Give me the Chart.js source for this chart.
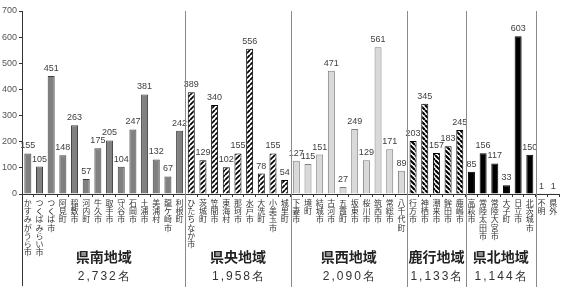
<!DOCTYPE html>
<html><head><meta charset="utf-8">
<script src="https://cdn.jsdelivr.net/npm/chart.js@4/dist/chart.umd.min.js"></script>
<style>html,body{margin:0;padding:0;background:#fff}#wrap{width:561px;height:288px;position:relative}</style>
</head><body><div id="wrap"><canvas id="c"></canvas></div>
<script>
const categories = ['かすみがうら市','つくばみらい市','つくば市','阿見町','稲敷市','河内町','牛久市','取手市','守谷市','石岡市','土浦市','美浦村','龍ケ崎市','利根町',
 'ひたちなか市','茨城町','笠間市','東海村','那珂市','水戸市','大洗町','小美玉市','城里町',
 '下妻市','境町','結城市','古河市','五霞町','坂東市','桜川市','筑西市','常総市','八千代町',
 '行方市','神栖市','潮来市','鉾田市','鹿嶋市',
 '高萩市','常陸太田市','常陸大宮市','大子町','日立市','北茨城市',
 '不明','県外'];
const values = [155,105,451,148,263,57,175,205,104,247,381,132,67,242,
 389,129,340,102,155,556,78,155,54,
 127,115,151,471,27,249,129,561,171,89,
 203,345,157,183,245,
 85,156,117,33,603,150,
 1,1];
const regionNames = ['県南地域','県央地域','県西地域','鹿行地域','県北地域'];
const regionTotals = ['2,732名','1,958名','2,090名','1,133名','1,144名'];
const regionSizes = [14,9,10,5,6,2];
const yTicks = [0,100,200,300,400,500,600,700];

function stripe(dir, lw){
  const s=5, c=document.createElement('canvas'); c.width=c.height=s;
  const g=c.getContext('2d'); g.fillStyle='#fff'; g.fillRect(0,0,s,s);
  g.strokeStyle='#000'; g.lineWidth=lw; g.beginPath();
  for(let k=-1;k<=1;k++){
    if(dir==='/'){ g.moveTo(k*s, s); g.lineTo(k*s+s, 0); }
    else { g.moveTo(k*s, 0); g.lineTo(k*s+s, s); }
  }
  g.stroke();
  return g.createPattern(c,'repeat');
}
const fills = ['#808080', stripe('/',1.7), '#d9d9d9', stripe('\\',2.1), '#000000', '#808080'];
const borders = ['#404040','#000','#7f7f7f','#000','#000','#404040'];
const regionOf = [];
regionSizes.forEach((n,r)=>{for(let i=0;i<n;i++)regionOf.push(r);});

const overlay = {
  id:'overlay',
  afterDraw(chart){
    const ctx=chart.ctx, x=chart.scales.x, y=chart.scales.y, area=chart.chartArea;
    ctx.save();
    // value labels
    ctx.font='9px "Liberation Sans", Arial, sans-serif';
    ctx.fillStyle='#404040'; ctx.textAlign='center'; ctx.textBaseline='alphabetic';
    values.forEach((v,i)=>{
      ctx.fillText(String(v), x.getPixelForValue(i), y.getPixelForValue(v)-5);
    });
    // separators
    let idx=0; const bounds=[];
    regionSizes.forEach((n,r)=>{ idx+=n; if(r<regionSizes.length-1){ bounds.push((x.getPixelForValue(idx-1)+x.getPixelForValue(idx))/2); } });
    ctx.strokeStyle='#8a8a8a'; ctx.lineWidth=1;
    bounds.forEach(b=>{ const px=Math.round(b)+0.5; ctx.beginPath(); ctx.moveTo(px, area.top); ctx.lineTo(px, chart.height-1); ctx.stroke(); });
    // left axis extension
    ctx.strokeStyle='#333';
    ctx.beginPath(); ctx.moveTo(Math.round(area.left)+0.5, area.bottom); ctx.lineTo(Math.round(area.left)+0.5, chart.height-2); ctx.stroke();
    // region names
    let start=0;
    regionNames.forEach((nm,r)=>{
      const n=regionSizes[r];
      const l=(start===0)?area.left:(x.getPixelForValue(start-1)+x.getPixelForValue(start))/2;
      const rt=(x.getPixelForValue(start+n-1)+x.getPixelForValue(start+n))/2;
      const cx=(l+rt)/2;
      ctx.fillStyle='#222';
      ctx.font='bold 14px "Noto Sans CJK JP", sans-serif';
      ctx.textBaseline='middle'; ctx.textAlign='center';
      ctx.fillText(nm, cx, 257);
      ctx.font='12px "Liberation Sans", Arial, sans-serif';
      ctx.fillStyle='#333';
      try{ ctx.letterSpacing='2px'; }catch(e){}
      ctx.fillText(regionTotals[r], cx+1, 277);
      try{ ctx.letterSpacing='0px'; }catch(e){}
      start+=n;
    });
    ctx.restore();
  }
};

new Chart(document.getElementById('c'),{
  type:'bar',
  data:{ labels: categories.map(s=>Array.from(s)),
    datasets:[{ data: values,
      backgroundColor: values.map((v,i)=>fills[regionOf[i]]),
      borderColor: values.map((v,i)=>borders[regionOf[i]]),
      borderWidth: 1, categoryPercentage: 1, barPercentage: 0.6 }]},
  options:{
    responsive:true, maintainAspectRatio:false, animation:false,
    devicePixelRatio:1,
    layout:{ padding:{ top:11, right:2, left:0, bottom:0 } },
    plugins:{ legend:{display:false}, tooltip:{enabled:false} },
    scales:{
      x:{ offset:true,
        grid:{ offset:true, drawOnChartArea:false, tickLength:3, color:'#333' },
        border:{ color:'#333' },
        ticks:{ autoSkip:false, maxRotation:0, minRotation:0, padding:2, color:'#333',
          font:{ family:'"Noto Sans CJK JP", sans-serif', size:8, lineHeight:1.02 } },
        afterFit(s){ s.height = 94; }
      },
      y:{ min:0, max:700,
        afterBuildTicks(s){ s.ticks = yTicks.map(v=>({value:v})); },
        grid:{ drawOnChartArea:false, tickLength:3, color:'#333' },
        border:{ color:'#333' },
        ticks:{ padding:2, color:'#555', font:{ family:'"Liberation Sans", Arial, sans-serif', size:9 } },
        afterFit(s){ s.width = 22; }
      }
    }
  },
  plugins:[overlay]
});
</script></body></html>
